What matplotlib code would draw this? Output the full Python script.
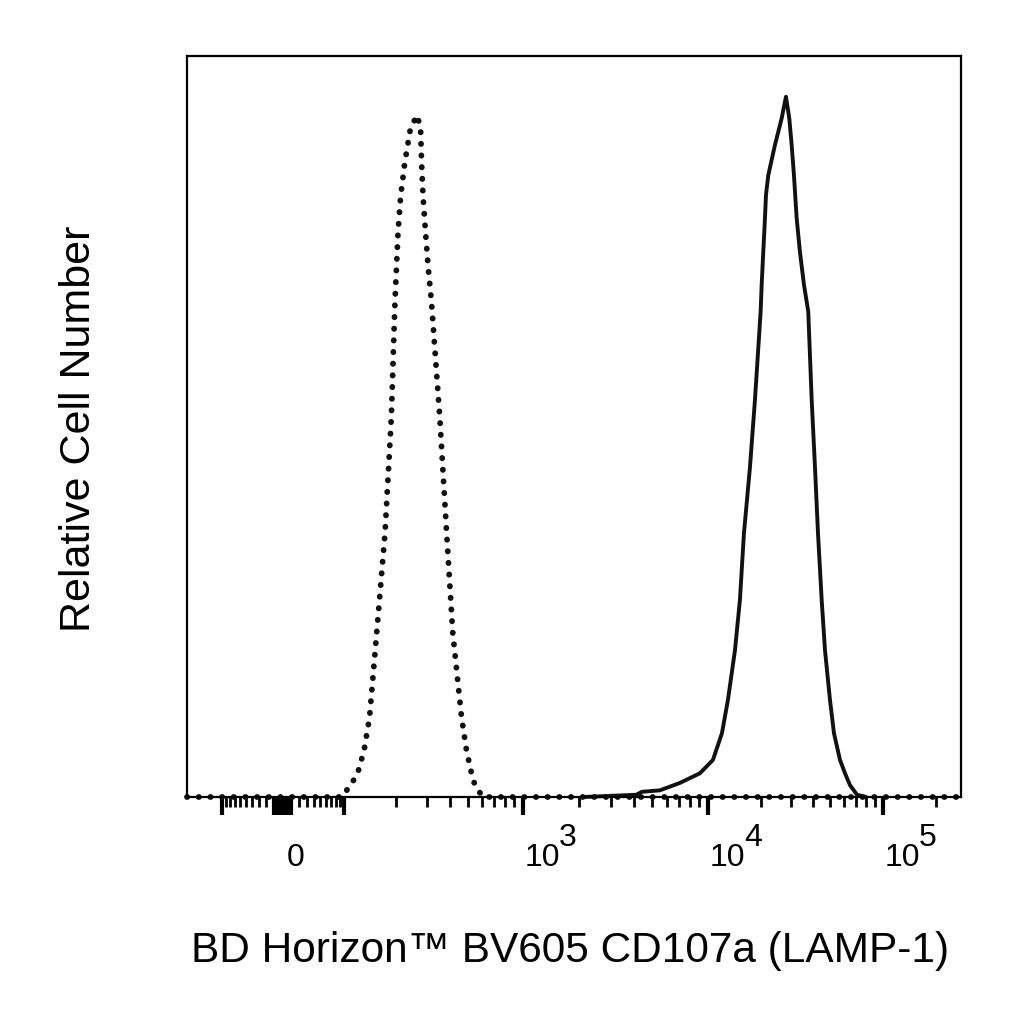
import numpy as np
import matplotlib
matplotlib.use("Agg")
import matplotlib.pyplot as plt

plt.rcParams['font.family'] = ['Liberation Sans', 'DejaVu Sans']

# unstained / isotype control (dotted) - fluorescence value vs relative count
ctrl_x = [-160, 95, 112, 121, 132, 142, 156, 174, 189, 198, 202, 206, 213, 225, 242, 263,
          275, 278.5, 284, 293, 303, 316, 351, 383, 414, 462, 492, 524, 547, 604, 279000]
ctrl_y = [0, 0, 1.9, 3.2, 6.3, 10.8, 22.1, 35.6, 51.3, 66.8, 71.5, 76.2, 81.0, 85.7, 90.3, 92.0,
          90.3, 85.7, 81.0, 76.2, 71.5, 66.8, 51.3, 35.6, 22.1, 10.8, 6.3, 3.2, 1.6, 0, 0]

# stained cells (solid)
stain_x = [2110, 4100, 4400, 5500, 7060, 9050, 10680, 12020, 13010, 14270, 15230, 16060,
           17380, 18560, 20000, 20270, 20700, 21170, 21450, 22110, 24150, 26380, 27910,
           29150, 30080, 31000, 32130, 33560, 35380, 37420, 39140, 40880, 42530, 44640,
           46630, 49790, 52480, 56800, 60670, 64790, 71040, 80000]
stain_y = [0, 0.3, 0.7, 0.9, 1.9, 3.2, 5.0, 8.6, 13.1, 19.8, 26.6, 35.6,
           44.5, 53.6, 65.5, 69.1, 73.5, 78.1, 81.2, 83.9, 88.0, 91.6, 94.5,
           91.6, 88.0, 83.9, 78.1, 73.5, 69.1, 65.5, 53.6, 44.5, 35.6, 26.6,
           19.8, 13.1, 8.6, 5.0, 3.2, 1.6, 0.3, 0]

# biexponential-like display scale (anchor values -> display units)
anchor_v = np.array([-1000, -100, 0, 100, 1e3, 1e4, 1e5, 1e6])
anchor_d = np.array([43, 222, 283, 344, 523, 708, 883, 1058], dtype=float)
W = 50.0
anchor_t = np.arcsinh(anchor_v / W)


def biex(x):
    return np.interp(np.arcsinh(np.asarray(x, dtype=float) / W), anchor_t, anchor_d)


def biex_inv(d):
    return W * np.sinh(np.interp(np.asarray(d, dtype=float), anchor_d, anchor_t))


fig = plt.figure(figsize=(10.24, 10.24), dpi=100)
ax = fig.add_axes([187 / 1024, 1 - 797 / 1024, (961 - 187) / 1024, (797 - 56) / 1024])
ax.set_xscale('function', functions=(biex, biex_inv))

ax.plot(ctrl_x, ctrl_y, color='#111111', lw=4.2, linestyle=(0, (0.05, 1.95)),
        dash_capstyle='round', clip_on=False)
ax.plot(stain_x, stain_y, color='#111111', lw=2.8, solid_joinstyle='round',
        solid_capstyle='round', clip_on=False)

ax.set_xlim(-160, 279000)
ax.set_ylim(0, 100)

zero_block = list(np.arange(-10, 11, 2))
major = [-100] + zero_block + [100, 1e3, 1e4, 1e5]
minor = ([-v for v in range(20, 100, 10)] + list(range(20, 100, 10)) +
         list(range(200, 1000, 100)) + list(range(2000, 10000, 1000)) +
         list(range(20000, 100000, 10000)) + [200000])
ax.set_xticks(major)
ax.set_xticks(minor, minor=True)
ax.tick_params(axis='x', which='major', direction='out', length=13, width=3, labelbottom=False)
ax.tick_params(axis='x', which='minor', direction='out', length=7, width=2)
ax.set_yticks([])
for s in ax.spines.values():
    s.set_linewidth(1.6)

# tick labels: "0", and 10 with full-size raised exponent
ax.annotate('0', xy=(0, 0), xycoords=('data', 'axes fraction'), xytext=(3, -50),
            textcoords='offset points', ha='left', va='baseline', fontsize=23)
for v, e in [(1e3, '3'), (1e4, '4'), (1e5, '5')]:
    ax.annotate('10', xy=(v, 0), xycoords=('data', 'axes fraction'), xytext=(1, -50),
                textcoords='offset points', ha='left', va='baseline', fontsize=23)
    ax.annotate(e, xy=(v, 0), xycoords=('data', 'axes fraction'), xytext=(26, -35),
                textcoords='offset points', ha='left', va='baseline', fontsize=23)

fig.text(570 / 1024, 1 - 962 / 1024, 'BD Horizon™ BV605 CD107a (LAMP-1)',
         ha='center', va='baseline', fontsize=30.5)
fig.text(79 / 1024, 1 - 429 / 1024, 'Relative Cell Number', rotation=90,
         ha='center', va='center', fontsize=31)

fig.savefig('out.png', dpi=100)
